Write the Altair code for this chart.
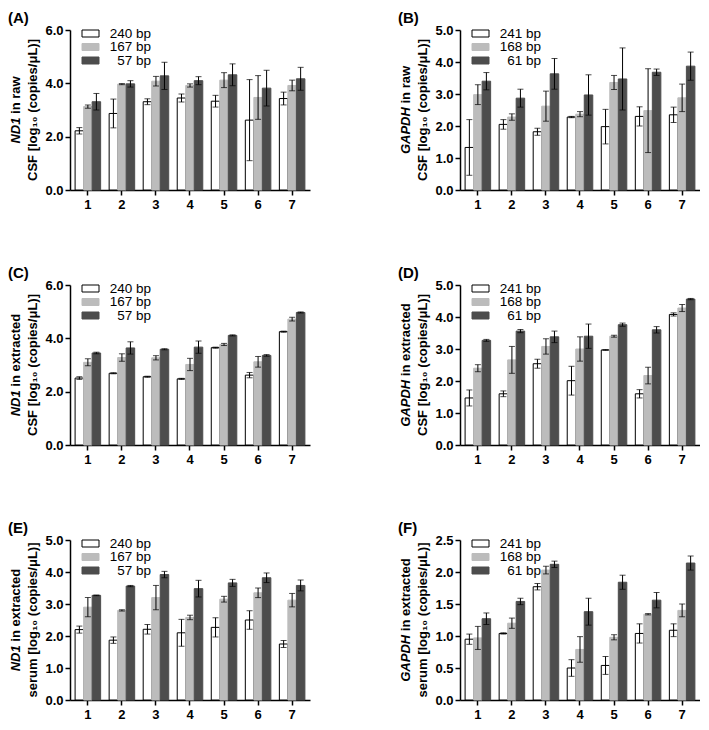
import altair as alt
import pandas as pd

FONT = "Liberation Sans, Arial, Helvetica, sans-serif"

groups = ["1", "2", "3", "4", "5", "6", "7"]
nd1_sizes = ["240 bp", "167 bp", "57 bp"]
gapdh_sizes = ["241 bp", "168 bp", "61 bp"]
fills = ["#ffffff", "#bcbcbc", "#4d4d4d"]
strokes = ["#000000", "#bcbcbc", "#4d4d4d"]

# (A) ND1 in raw CSF
a_240 = [2.22, 2.87, 3.31, 3.45, 3.33, 2.62, 3.43]
a_240_err = [0.12, 0.54, 0.11, 0.15, 0.22, 1.52, 0.24]
a_167 = [3.13, 3.97, 4.08, 3.92, 4.12, 3.47, 3.92]
a_167_err = [0.06, 0.02, 0.18, 0.06, 0.28, 0.82, 0.20]
a_57 = [3.31, 3.98, 4.28, 4.10, 4.32, 3.82, 4.17]
a_57_err = [0.31, 0.12, 0.51, 0.15, 0.41, 0.67, 0.43]

# (B) GAPDH in raw CSF
b_241 = [1.33, 2.05, 1.82, 2.28, 1.98, 2.30, 2.35]
b_241_err = [0.87, 0.15, 0.11, 0.02, 0.54, 0.30, 0.24]
b_168 = [2.98, 2.28, 2.62, 2.37, 3.36, 2.48, 2.88]
b_168_err = [0.31, 0.10, 0.47, 0.08, 0.22, 1.31, 0.43]
b_61 = [3.40, 2.87, 3.63, 2.97, 3.47, 3.68, 3.87]
b_61_err = [0.27, 0.28, 0.48, 0.63, 0.97, 0.10, 0.44]

# (C) ND1 in extracted CSF
c_240 = [2.51, 2.69, 2.56, 2.48, 3.65, 2.62, 4.25]
c_240_err = [0.05, 0.02, 0.02, 0.02, 0.02, 0.10, 0.02]
c_167 = [3.10, 3.28, 3.27, 3.02, 3.77, 3.12, 4.72]
c_167_err = [0.13, 0.14, 0.08, 0.23, 0.04, 0.20, 0.07]
c_57 = [3.45, 3.64, 3.59, 3.67, 4.11, 3.36, 4.97]
c_57_err = [0.03, 0.23, 0.02, 0.23, 0.02, 0.03, 0.02]

# (D) GAPDH in extracted CSF
d_241 = [1.47, 1.60, 2.54, 2.01, 2.97, 1.60, 4.08]
d_241_err = [0.25, 0.09, 0.14, 0.45, 0.01, 0.13, 0.05]
d_168 = [2.40, 2.66, 3.08, 3.00, 3.40, 2.17, 4.28]
d_168_err = [0.11, 0.42, 0.24, 0.38, 0.03, 0.26, 0.11]
d_61 = [3.27, 3.56, 3.38, 3.40, 3.76, 3.60, 4.56]
d_61_err = [0.03, 0.05, 0.18, 0.38, 0.05, 0.10, 0.02]

# (E) ND1 in extracted serum
e_240 = [2.20, 1.87, 2.21, 2.10, 2.27, 2.50, 1.75]
e_240_err = [0.11, 0.10, 0.15, 0.42, 0.30, 0.29, 0.11]
e_167 = [2.90, 2.80, 3.20, 2.58, 3.15, 3.35, 3.12]
e_167_err = [0.30, 0.02, 0.38, 0.07, 0.09, 0.15, 0.21]
e_57 = [3.27, 3.56, 3.92, 3.48, 3.66, 3.82, 3.58]
e_57_err = [0.01, 0.02, 0.10, 0.26, 0.11, 0.15, 0.17]

# (F) GAPDH in extracted serum
f_241 = [0.95, 1.04, 1.77, 0.50, 0.54, 1.04, 1.09]
f_241_err = [0.08, 0.01, 0.05, 0.13, 0.14, 0.15, 0.10]
f_168 = [0.97, 1.20, 2.03, 0.79, 0.98, 1.34, 1.40]
f_168_err = [0.18, 0.08, 0.06, 0.20, 0.04, 0.01, 0.10]
f_61 = [1.27, 1.54, 2.12, 1.38, 1.84, 1.56, 2.14]
f_61_err = [0.09, 0.05, 0.05, 0.21, 0.11, 0.12, 0.11]

W = 240
H = 160

# approximate Arial-bold widths (em) of title fragments
EM = {"ND1": 2.0, "GAPDH": 3.611, "in raw": 2.89, "in extracted": 5.613}
TFS = 13
GAP = 3.6

# x slots: three adjacent bars per group, one empty slot between groups
slots = []
for gi, g in enumerate(groups):
    slots += [f"{g}|0", f"{g}|1", f"{g}|2"]
    if gi < len(groups) - 1:
        slots.append(f"{g}|gap")
mid_slots = [f"{g}|1" for g in groups]


def one(text):
    return pd.DataFrame({"t": [text]})


def make_panel(tag, gene, rest1, line2, sizes, means, errs, ymax, ystep):
    rows = []
    for si, (s, ml, el) in enumerate(zip(sizes, means, errs)):
        for g, m, e in zip(groups, ml, el):
            rows.append({"slot": f"{g}|{si}", "amp": s, "mean": m, "lo": m - e, "hi": m + e})
    df = pd.DataFrame(rows)
    n = int(round(ymax / ystep))
    tick_vals = [round(i * ystep, 2) for i in range(n + 1)]
    yscale = alt.Scale(domain=[0, ymax], nice=False, zero=True)
    yaxis = alt.Axis(values=tick_vals, format=".1f", title=None, grid=False)
    xenc = alt.X("slot:N", sort=slots,
                 scale=alt.Scale(type="band", domain=slots, paddingInner=0, paddingOuter=0.6),
                 axis=alt.Axis(title=None, labelAngle=0, grid=False, values=mid_slots,
                               labelExpr="split(datum.value, '|')[0]"))

    bars = alt.Chart(df).mark_bar(strokeWidth=1).encode(
        x=xenc,
        y=alt.Y("mean:Q", scale=yscale, axis=yaxis),
        fill=alt.Fill("amp:N", scale=alt.Scale(domain=sizes, range=fills), legend=None),
        stroke=alt.Stroke("amp:N", scale=alt.Scale(domain=sizes, range=strokes), legend=None),
    )
    err = alt.Chart(df).mark_rule(color="black", strokeWidth=1).encode(
        x=xenc, y=alt.Y("lo:Q", scale=yscale, axis=yaxis), y2="hi:Q")
    cap_lo = alt.Chart(df).mark_tick(color="black", size=6, thickness=1, orient="horizontal").encode(
        x=xenc, y=alt.Y("lo:Q", scale=yscale, axis=yaxis))
    cap_hi = alt.Chart(df).mark_tick(color="black", size=6, thickness=1, orient="horizontal").encode(
        x=xenc, y=alt.Y("hi:Q", scale=yscale, axis=yaxis))

    layers = [bars, err, cap_lo, cap_hi]

    # manual legend
    row_y = [3.5, 17, 30.5]
    for s, fc, sc, yc in zip(sizes, fills, strokes, row_y):
        layers.append(alt.Chart(one(s)).mark_rect(strokeWidth=1).encode(
            x=alt.value(12), x2=alt.value(29), y=alt.value(yc - 3.5), y2=alt.value(yc + 3.5),
            fill=alt.value(fc), stroke=alt.value(sc)))
        layers.append(alt.Chart(one(s)).mark_text(
            font=FONT, fontSize=13.5, align="right", baseline="middle", color="black").encode(
            x=alt.value(81), y=alt.value(yc), text="t:N"))

    # panel tag
    layers.append(alt.Chart(one(tag)).mark_text(
        font=FONT, fontSize=15, fontWeight="bold", align="left", baseline="middle", color="black").encode(
        x=alt.value(-62), y=alt.value(-12), text="t:N"))

    # y title, line 1 (italic gene name + rest), line 2
    w1 = EM[gene] * TFS
    w2 = EM[rest1] * TFS
    yj = H / 2 - (w1 - w2 - GAP) / 2
    layers.append(alt.Chart(one(gene)).mark_text(
        font=FONT, fontSize=TFS, fontWeight="bold", fontStyle="italic", angle=270,
        align="right", baseline="middle", color="black").encode(
        x=alt.value(-54), y=alt.value(yj), text="t:N"))
    layers.append(alt.Chart(one(rest1)).mark_text(
        font=FONT, fontSize=TFS, fontWeight="bold", angle=270,
        align="left", baseline="middle", color="black").encode(
        x=alt.value(-54), y=alt.value(yj - GAP), text="t:N"))
    layers.append(alt.Chart(one(line2)).mark_text(
        font=FONT, fontSize=TFS, fontWeight="bold", angle=270,
        align="center", baseline="middle", color="black").encode(
        x=alt.value(-37), y=alt.value(H / 2), text="t:N"))

    return alt.layer(*layers).properties(width=W, height=H)


csf = "CSF [log\u2081\u2080 (copies/\u03bcL)]"
serum = "serum [log\u2081\u2080 (copies/\u03bcL)]"

pA = make_panel("(A)", "ND1", "in raw", csf, nd1_sizes,
                [a_240, a_167, a_57], [a_240_err, a_167_err, a_57_err], 6.0, 2.0)
pB = make_panel("(B)", "GAPDH", "in raw", csf, gapdh_sizes,
                [b_241, b_168, b_61], [b_241_err, b_168_err, b_61_err], 5.0, 1.0)
pC = make_panel("(C)", "ND1", "in extracted", csf, nd1_sizes,
                [c_240, c_167, c_57], [c_240_err, c_167_err, c_57_err], 6.0, 2.0)
pD = make_panel("(D)", "GAPDH", "in extracted", csf, gapdh_sizes,
                [d_241, d_168, d_61], [d_241_err, d_168_err, d_61_err], 5.0, 1.0)
pE = make_panel("(E)", "ND1", "in extracted", serum, nd1_sizes,
                [e_240, e_167, e_57], [e_240_err, e_167_err, e_57_err], 5.0, 1.0)
pF = make_panel("(F)", "GAPDH", "in extracted", serum, gapdh_sizes,
                [f_241, f_168, f_61], [f_241_err, f_168_err, f_61_err], 2.5, 0.5)

HS = 88
VS = 55

chart = alt.vconcat(
    alt.hconcat(pA, pB, spacing=HS),
    alt.hconcat(pC, pD, spacing=HS),
    alt.hconcat(pE, pF, spacing=HS),
    spacing=VS,
).properties(
    padding={"top": 3, "left": 0, "right": 0, "bottom": 0}, background="white"
).configure_view(
    stroke=None
).configure_axis(
    domainColor="black", domainWidth=1.5, tickColor="black", tickWidth=1.5, tickSize=5,
    labelColor="black", labelFont=FONT, labelFontSize=13, labelFontWeight="bold", grid=False
).configure_axisX(labelPadding=3).configure_axisY(labelPadding=2)

chart.save("out.html", embed_options={"renderer": "svg", "actions": False})
